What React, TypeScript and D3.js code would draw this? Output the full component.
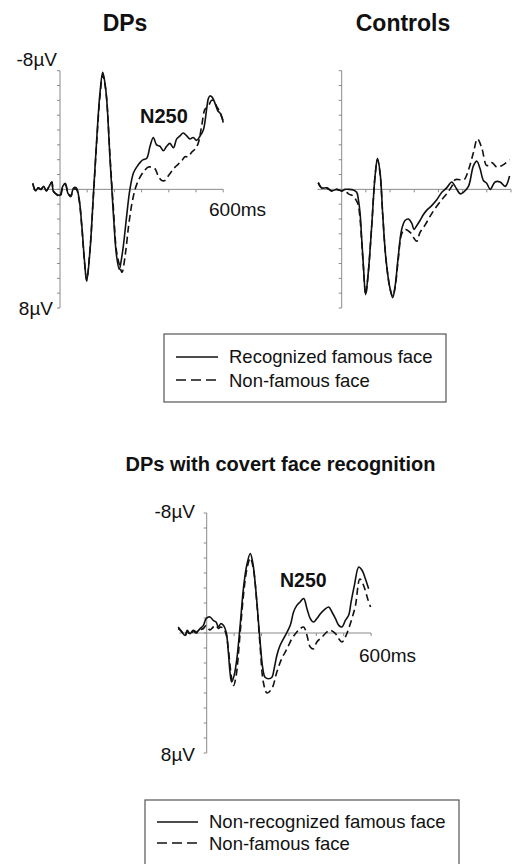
import React from "react";
import * as d3 from "d3";

// ---- Data (time in ms, amplitude in µV; negative plotted up) ----
const dpsRecT = [-100,-90,-80,-70,-60,-50,-40,-30,-25,-15,0,10,20,30,40,50,60,70,80,90,98,110,123,135,147,157,165,172,184,196,208,218,225,233,245,257,270,282,294,306,319,331,343,355,368,380,392,404,417,429,441,453,466,478,490,502,515,527,539,545,551,560,570,580,590,600];
const dpsRecV = [-0.4,0.1,-0.1,0,-0.2,0.1,-0.2,-0.5,0.1,0.3,0.4,-0.2,-0.4,0.3,0.4,-0.1,-0.1,0.6,2.4,4.8,6.2,4.2,0.3,-3.4,-6.5,-7.9,-7.2,-6.0,-2.0,1.6,4.5,5.4,4.8,3.8,1.8,0.0,-1.1,-1.5,-1.8,-2.0,-2.1,-2.9,-3.5,-3.0,-2.9,-2.6,-2.9,-3.1,-2.8,-3.4,-3.6,-3.8,-3.6,-3.4,-3.5,-3.3,-3.6,-4.0,-5.4,-6.1,-6.3,-6.2,-5.8,-5.3,-5.1,-4.5];
const dpsNonT = [-100,-90,-80,-70,-60,-50,-40,-30,-25,-15,0,10,20,30,40,50,60,70,80,90,98,110,123,135,147,157,165,172,184,196,208,220,228,240,252,264,276,288,300,312,325,337,349,361,374,386,398,410,423,435,447,459,472,484,496,508,521,533,545,557,564,576,588,600];
const dpsNonV = [-0.4,0.1,-0.1,0,-0.2,0.1,-0.2,-0.5,0.1,0.3,0.5,-0.1,-0.3,0.3,0.5,0,0,0.7,2.5,4.9,6.1,4.1,0.4,-3.2,-6.3,-7.7,-7.1,-6.0,-2.2,1.2,4.2,5.2,5.6,4.4,2.5,1.0,0.0,-0.6,-1.0,-1.3,-1.5,-1.5,-1.4,-0.9,-0.6,-0.6,-0.9,-1.2,-1.5,-1.7,-1.9,-2.2,-2.2,-2.5,-2.7,-3.1,-4.3,-5.4,-5.6,-6.0,-6.0,-5.6,-5.2,-4.6];

const ctlRecT = [-97,-83,-62,-41,-21,0,14,28,48,62,69,76,83,90,99,110,124,138,148,159,170,183,200,211,221,234,248,262,276,290,299,310,324,338,352,372,393,414,434,455,469,490,503,524,545,559,572,586,600,614,634,655,676,694];
const ctlRecV = [-0.45,-0.1,-0.1,0.1,0,0.1,0,0,0.05,0.2,0.7,1.6,3.4,5.2,7.1,5.6,2.5,-0.9,-2.1,-1.1,1.8,4.7,6.7,7.3,6.5,4.5,2.7,2.1,2.0,2.3,2.7,2.45,2.1,1.7,1.4,1.1,0.7,0.2,-0.1,-0.5,-0.2,0.3,0.2,-0.2,-1.6,-1.9,-1.4,-0.6,-0.4,0,-0.5,-0.5,-0.2,-0.9];
const ctlNonT = [-97,-83,-62,-41,-21,0,14,28,48,62,69,76,83,90,99,110,124,138,148,159,170,183,200,211,221,234,248,262,283,299,310,324,345,366,386,414,434,455,469,490,506,524,545,561,579,600,621,641,662,694];
const ctlNonV = [-0.45,-0.1,-0.1,0.1,0,0.1,0.1,0.3,0.45,0.8,1.1,2.0,3.6,5.3,7.1,5.6,2.5,-0.9,-2.0,-1.0,1.8,4.7,6.7,7.2,6.6,4.7,3.0,2.7,2.9,3.3,3.5,2.9,2.4,1.8,1.3,0.7,0.3,-0.2,-0.65,-0.65,-0.65,-1.3,-2.5,-3.4,-2.8,-1.6,-1.8,-1.5,-1.6,-2.0];

const covRecT = [-104,-91,-79,-71,-61,-49,-37,-24,-12,-2,12,24,34,43,51,61,71,79,85,91,100,110,122,134,146,159,168,180,193,205,213,226,238,246,256,268,287,305,317,329,341,354,366,378,390,402,415,427,445,457,470,482,494,506,518,527,539,555,567,579,591];
const covRecV = [-0.4,-0.07,0.16,-0.18,0.04,-0.18,-0.07,-0.29,-0.51,-0.96,-1.07,-0.84,-0.73,-0.4,-0.62,-0.51,-0.07,1.27,2.6,3.27,2.84,1.73,-0.5,-2.96,-4.5,-5.3,-4.7,-2.73,0.16,2.4,2.95,3.05,2.95,2.4,1.5,0.82,0.16,-0.51,-1.4,-1.84,-2.07,-2.3,-1.62,-0.96,-0.73,-0.96,-1.29,-1.51,-1.73,-1.4,-0.96,-0.51,-0.4,-0.84,-1.18,-2.07,-3.18,-4.4,-4.18,-3.62,-2.95];
const covNonT = [-104,-91,-79,-71,-61,-49,-37,-24,-12,-2,12,24,34,43,51,61,71,79,91,98,107,122,134,146,159,171,183,195,207,220,238,256,274,293,311,329,341,354,366,378,390,402,421,439,451,470,482,494,506,518,530,543,559,573,588,598];
const covNonV = [-0.3,-0.1,0.2,-0.1,0.1,-0.1,0,-0.2,-0.3,-0.5,-0.2,-0.4,-0.5,-0.3,-0.4,-0.3,0.1,1.1,3.0,3.5,2.9,0.0,-2.5,-4.2,-5.0,-4.2,-2.0,0.9,3.3,4.0,3.7,2.6,1.7,1.05,0.38,-0.07,-0.29,-0.4,0.16,0.93,1.05,0.6,0.27,-0.07,-0.18,0.04,0.38,0.6,0.27,-0.29,-0.96,-1.84,-3.6,-3.15,-2.25,-1.73];

const yTicks = d3.range(-8, 9, 1);
const legendTop = ["Recognized famous face", "Non-famous face"];
const legendBottom = ["Non-recognized famous face", "Non-famous face"];

const FONT = "'Liberation Sans', Arial, Helvetica, sans-serif";
const AXIS = "#8a8a8a";

type PanelProps = {
  tDomain: [number, number];
  xRange: [number, number];
  yRange: [number, number];
  solidT: number[]; solidV: number[];
  dashT: number[]; dashV: number[];
};

function Panel({ tDomain, xRange, yRange, solidT, solidV, dashT, dashV }: PanelProps) {
  const x = d3.scaleLinear().domain(tDomain).range(xRange);
  const y = d3.scaleLinear().domain([-8, 8]).range(yRange);
  const line = d3.line<[number, number]>()
    .x(d => x(d[0])).y(d => y(d[1]))
    .curve(d3.curveCatmullRom.alpha(0.5));
  const solid = solidT.map((t, i) => [t, solidV[i]] as [number, number]);
  const dash = dashT.map((t, i) => [t, dashV[i]] as [number, number]);
  const xTicks = d3.range(100, tDomain[1] + 1, 100);
  const x0 = x(0);
  return (
    <g>
      <line x1={x(tDomain[0])} x2={x(tDomain[1])} y1={y(0)} y2={y(0)} stroke={AXIS} strokeWidth={1} />
      {xTicks.map(t => (
        <line key={t} x1={x(t)} x2={x(t)} y1={y(0)} y2={y(0) + 3} stroke={AXIS} strokeWidth={1} />
      ))}
      <line x1={x0} x2={x0} y1={y(-8)} y2={y(8)} stroke={AXIS} strokeWidth={1} />
      {yTicks.map(v => (
        <line key={v} x1={x0 - 3} x2={x0} y1={y(v)} y2={y(v)} stroke={AXIS} strokeWidth={1} />
      ))}
      <path d={line(dash) || ""} fill="none" stroke="#111" strokeWidth={1.6} strokeDasharray="7,4" />
      <path d={line(solid) || ""} fill="none" stroke="#111" strokeWidth={1.6} />
    </g>
  );
}

function Legend({ x, y, w, h, labels, lx1, lx2, tx, rows }:
  { x: number; y: number; w: number; h: number; labels: string[]; lx1: number; lx2: number; tx: number; rows: { ly: number; ty: number }[] }) {
  return (
    <g>
      <rect x={x} y={y} width={w} height={h} fill="white" stroke="#555" strokeWidth={1.2} />
      {labels.map((lab, i) => (
        <g key={lab}>
          <line x1={lx1} x2={lx2} y1={rows[i].ly} y2={rows[i].ly} stroke="#111" strokeWidth={1.6}
            strokeDasharray={i === 1 ? "10,5" : undefined} />
          <text x={tx} y={rows[i].ty} fontSize={18.5} fontFamily={FONT} fill="#111">{lab}</text>
        </g>
      ))}
    </g>
  );
}

export default function App() {
  const label = { fontFamily: FONT, fill: "#111" } as const;
  return (
    <svg width={513} height={864} style={{ position: "absolute", left: 0, top: 0, background: "white" }}>
      {/* Titles */}
      <text x={125} y={31} textAnchor="middle" fontSize={23} fontWeight="bold" {...label}>DPs</text>
      <text x={403} y={31} textAnchor="middle" fontSize={23} fontWeight="bold" {...label}>Controls</text>
      <text x={280.5} y={471} textAnchor="middle" fontSize={20} fontWeight="bold" {...label}>DPs with covert face recognition</text>

      {/* Panel 1: DPs */}
      <Panel tDomain={[-100, 600]} xRange={[32.8, 223.2]} yRange={[70.7, 308]}
        solidT={dpsRecT} solidV={dpsRecV} dashT={dpsNonT} dashV={dpsNonV} />
      <text x={57} y={66} textAnchor="end" fontSize={19} {...label}>-8µV</text>
      <text x={53} y={315} textAnchor="end" fontSize={19} {...label}>8µV</text>
      <text x={209} y={216} fontSize={19} {...label}>600ms</text>
      <text x={140} y={123} fontSize={20} fontWeight="bold" {...label}>N250</text>

      {/* Panel 2: Controls */}
      <Panel tDomain={[-100, 700]} xRange={[317.5, 511]} yRange={[70.7, 308]}
        solidT={ctlRecT} solidV={ctlRecV} dashT={ctlNonT} dashV={ctlNonV} />

      <Legend x={164} y={334} w={282} h={68} labels={legendTop} lx1={176} lx2={218} tx={229}
        rows={[{ ly: 357, ty: 363 }, { ly: 380, ty: 387 }]} />

      {/* Panel 3: DPs with covert face recognition */}
      <Panel tDomain={[-100, 600]} xRange={[179.3, 371.1]} yRange={[513, 753]}
        solidT={covRecT} solidV={covRecV} dashT={covNonT} dashV={covNonV} />
      <text x={195} y={518} textAnchor="end" fontSize={19} {...label}>-8µV</text>
      <text x={195} y={761} textAnchor="end" fontSize={19} {...label}>8µV</text>
      <text x={359} y={662} fontSize={19} {...label}>600ms</text>
      <text x={280} y={587} fontSize={19.5} fontWeight="bold" {...label}>N250</text>

      <Legend x={145} y={800} w={314} h={80} labels={legendBottom} lx1={157} lx2={198} tx={209}
        rows={[{ ly: 822, ty: 828 }, { ly: 843, ty: 850 }]} />
    </svg>
  );
}
